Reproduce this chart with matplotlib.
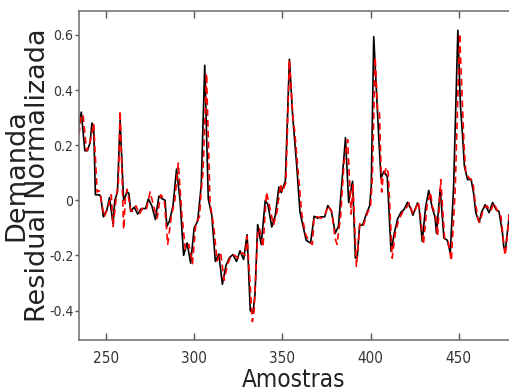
import numpy as np
import matplotlib
matplotlib.use("Agg")
import matplotlib.pyplot as plt

# Demanda real (linha preta) - amostra, valor
real_x = [234.7, 236, 238, 239.5, 241, 242, 243, 244, 246, 247, 248.5, 250.5, 252, 254, 255, 256.5,
          258, 260, 262, 263, 264, 266, 268, 270, 272.5, 274, 276, 278, 280, 282, 283.5, 284.5,
          286, 288, 290, 292, 294, 296, 298, 300, 302, 304, 306, 308, 310, 312, 314, 316,
          318, 320, 322, 324, 326, 328, 330, 331.8, 333.3, 334.5, 336, 338, 340.3, 341.8,
          344, 346, 348, 349.4, 351.7, 354, 355.8, 357.2, 358.2, 360, 361.8, 363.5, 366, 368,
          370, 372, 374, 375.8, 377.8, 380, 381.8, 383.5, 385.8, 387.6, 389.8, 391.4, 392.5, 393.8,
          395.5, 397.6, 399.5, 400.4, 401.8, 403.4, 404.8, 405.9, 407.6, 409.5, 411.6, 413.4, 415.3, 417.2,
          419, 421, 422.8, 424, 426.6, 427.5, 429.3, 431.2, 433, 434.9, 436.5, 437.4, 439.5, 441.6,
          443.5, 445.2, 447.1, 449.5, 451, 452.2, 453.2, 455, 457, 458.4, 459.7, 461.6, 463, 465,
          467.2, 469.2, 471.2, 472.8, 474.8, 475.6, 476.6, 478.5]
real_y = [0.27, 0.32, 0.18, 0.18, 0.21, 0.28, 0.27, 0.02, 0.02, 0.015, -0.06, -0.035, 0.01, -0.085, 0.0, 0.03,
          0.29, 0.0, 0.03, 0.025, -0.04, -0.025, -0.05, -0.03, -0.03, 0.005, -0.02, -0.07, 0.015, 0.005, 0.0, -0.095,
          -0.075, -0.02, 0.113, 0.0, -0.2, -0.155, -0.228, -0.1, -0.075, 0.055, 0.49, 0.005, -0.055, -0.222, -0.195, -0.305,
          -0.237, -0.208, -0.197, -0.222, -0.183, -0.215, -0.125, -0.40, -0.41, -0.34, -0.088, -0.16, 0.0, -0.015,
          -0.097, -0.055, 0.048, 0.028, 0.07, 0.512, 0.31, 0.2, 0.12, -0.043, -0.095, -0.145, -0.155, -0.058,
          -0.065, -0.06, -0.06, -0.019, -0.04, -0.119, -0.095, 0.045, 0.227, -0.008, 0.069, -0.21, -0.205, -0.09,
          -0.09, -0.05, -0.02, 0.05, 0.594, 0.39, 0.21, 0.08, 0.105, 0.085, -0.185, -0.122, -0.068, -0.044,
          -0.033, -0.007, -0.03, -0.054, -0.01, -0.025, -0.149, -0.025, 0.036, -0.025, -0.06, -0.12, 0.041, -0.137,
          -0.145, -0.191, 0.051, 0.617, 0.34, 0.233, 0.124, 0.075, 0.076, 0.027, -0.046, -0.08, -0.042, -0.016,
          -0.045, -0.008, -0.034, -0.04, -0.119, -0.173, -0.17, -0.066]

# Demanda prevista (linha vermelha tracejada)
prev_x = [234.7, 236, 237, 239, 240, 242, 243, 245, 246, 247, 249, 251, 253, 254, 256, 257,
          258, 260, 261, 262, 264, 265, 267, 269, 271, 273, 275, 277, 279, 281, 283, 285,
          287, 289, 291, 293, 295, 297, 299, 301, 303, 304, 305, 307, 309, 311, 313, 315,
          317, 319, 321, 323, 325, 327, 329, 330, 333, 334, 336, 337, 339, 341, 343, 345,
          347, 349, 350, 352, 354, 356, 357, 359, 361, 363, 365, 367, 368, 370, 372, 374,
          376, 378, 380, 381, 383, 385, 387, 389, 390, 392, 394, 396, 398, 400, 401, 402.6,
          404, 405, 406.3, 407, 409, 410, 412.3, 414, 416, 418, 420, 422, 424, 425,
          427, 428, 430, 432, 434, 435, 437, 438, 439.8, 442, 444, 445.8, 448, 450.5, 452.2, 453,
          454, 456, 458, 459, 461, 462, 464, 466, 468, 470, 472, 474, 476.2, 477, 478.5]
prev_y = [0.24, 0.31, 0.31, 0.18, 0.19, 0.24, 0.28, 0.03, 0.035, 0.01, -0.06, -0.03, 0.02, -0.095, 0.02, 0.06,
          0.325, -0.105, 0.01, 0.04, -0.035, -0.04, -0.02, -0.05, -0.025, -0.03, 0.03, -0.02, -0.065, 0.02, 0.005, -0.16,
          -0.06, 0.0, 0.135, -0.05, -0.18, -0.16, -0.23, -0.08, -0.06, 0.04, 0.1, 0.46, -0.01, -0.09, -0.22, -0.19,
          -0.29, -0.23, -0.2, -0.2, -0.21, -0.19, -0.2, -0.13, -0.44, -0.40, -0.12, -0.1, -0.17, 0.03, -0.03, -0.09,
          -0.04, 0.06, 0.03, 0.065, 0.51, 0.3, 0.25, 0.1, -0.05, -0.12, -0.15, -0.16, -0.06, -0.06, -0.065, -0.055,
          -0.02, -0.04, -0.14, -0.16, -0.06, 0.14, 0.22, -0.05, 0.06, -0.24, -0.08, -0.09, -0.05, -0.02, 0.08, 0.52,
          0.33, 0.33, 0.03, 0.08, 0.12, 0.1, -0.21, -0.12, -0.07, -0.045, -0.03, -0.01, -0.05, -0.04,
          -0.005, -0.04, -0.16, -0.02, 0.03, -0.02, -0.06, -0.13, 0.075, -0.14, -0.15, -0.22, 0.04, 0.605, 0.33, 0.2,
          0.1, 0.08, 0.07, 0.01, -0.07, -0.08, -0.03, -0.02, -0.04, -0.01, -0.04, -0.06, -0.2, -0.17, -0.05]

xticks = [250, 300, 350, 400, 450]
yticks = [-0.4, -0.2, 0, 0.2, 0.4, 0.6]
ytick_labels = ["-0.4", "-0.2", "0", "0.2", "0.4", "0.6"]

W, H = 509, 392
fig = plt.figure(figsize=(W / 100, H / 100), dpi=100)
ax = fig.add_axes([79 / W, 52 / H, 430 / W, 329 / H])

ax.plot(real_x, real_y, color="black", linewidth=1.2)
ax.plot(prev_x, prev_y, color="red", linewidth=1.2, linestyle=(0, (4, 2.5)))

ax.set_xlim(234.7, 478.5)
ax.set_ylim(-0.507, 0.687)

cond = {"family": "DejaVu Sans", "stretch": "condensed"}

ax.set_xticks(xticks)
ax.set_xticklabels([str(t) for t in xticks], fontdict=cond, fontsize=11, color="#333333")
ax.set_yticks(yticks)
ax.set_yticklabels(ytick_labels, fontdict=cond, fontsize=10, color="#333333")

ax.tick_params(axis="x", direction="in", length=5, width=1, color="#555555", top=True, pad=8)
ax.tick_params(axis="y", direction="out", length=3, width=1, color="#555555", pad=1)

for s in ["top", "bottom", "left"]:
    ax.spines[s].set_color("#777777")
    ax.spines[s].set_linewidth(1.2)
ax.spines["right"].set_visible(False)

fig.text(294 / W, 5 / H, "Amostras", ha="center", va="baseline",
         fontsize=17.5, family="DejaVu Sans", stretch="condensed", color="#222222")
# rotulo do eixo y em duas linhas, colado nos numeros
fig.text(51 / W, 1 - 175.5 / H, "Demanda\nResidual Normalizada", rotation=90,
         ha="right", va="center", multialignment="center", linespacing=0.78,
         fontsize=19.5, family="DejaVu Sans", color="#222222")

fig.savefig("out.png", dpi=100)
